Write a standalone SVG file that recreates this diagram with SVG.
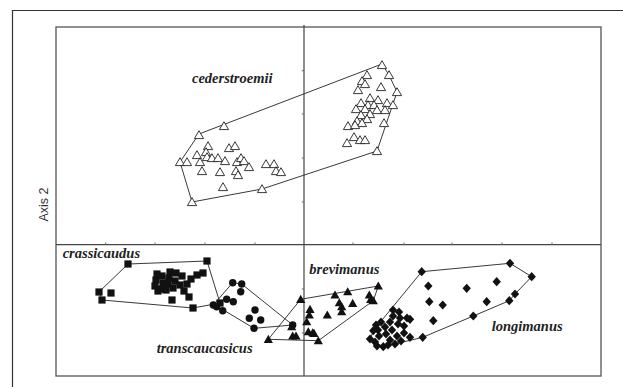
<svg xmlns="http://www.w3.org/2000/svg" xmlns:xlink="http://www.w3.org/1999/xlink" width="623" height="387" viewBox="0 0 623 387">
<style>
  .frame{fill:none;stroke:#333;stroke-width:1.2}
  .box{fill:none;stroke:#555;stroke-width:1.3}
  .axis{fill:none;stroke:#444;stroke-width:1.2}
  .tick{stroke:#666;stroke-width:1}
  .hull{fill:none;stroke:#222;stroke-width:0.9;stroke-linejoin:round}
  .lab{font-family:"Liberation Serif","Times New Roman",serif;font-weight:bold;font-style:italic;font-size:14.5px;fill:#222}
  .ax{font-family:"Liberation Sans",Arial,sans-serif;font-size:12.5px;fill:#333}
</style>
<defs>
  <path id="to" d="M0,-4.3 L4.6,3.6 L-4.6,3.6 Z" fill="#fff" stroke="#222" stroke-width="0.9"/>
  <path id="tf" d="M0,-4.5 L4.6,3.6 L-4.6,3.6 Z" fill="#111"/>
  <rect id="sq" x="-3.6" y="-3.6" width="7.2" height="7.2" fill="#111"/>
  <circle id="ci" r="3.7" fill="#111"/>
  <path id="di" d="M0,-4.6 L4.2,0 L0,4.6 L-4.2,0 Z" fill="#111"/>
</defs>
<rect width="623" height="387" fill="#fff"/>
<g id="frame">
  <polyline class="frame" points="12.5,387 12.5,10.5 623,10.5"/>
  <rect class="box" x="56" y="27" width="545" height="349"/>
</g>
<g id="axes">
  <line class="axis" x1="56" y1="244.7" x2="601" y2="244.7"/>
  <line class="axis" x1="304" y1="25" x2="304" y2="376"/>
  <g class="tick">
    <line x1="105.7" y1="242.5" x2="105.7" y2="244.7"/>
    <line x1="155" y1="242.5" x2="155" y2="244.7"/>
    <line x1="205" y1="242.5" x2="205" y2="244.7"/>
    <line x1="255" y1="242.5" x2="255" y2="244.7"/>
    <line x1="353" y1="242.5" x2="353" y2="244.7"/>
    <line x1="404" y1="242.5" x2="404" y2="244.7"/>
    <line x1="452" y1="242.5" x2="452" y2="244.7"/>
    <line x1="502" y1="242.5" x2="502" y2="244.7"/>
    <line x1="552" y1="242.5" x2="552" y2="244.7"/>
    <line x1="301.8" y1="70.7" x2="304" y2="70.7"/>
    <line x1="301.8" y1="114" x2="304" y2="114"/>
    <line x1="301.8" y1="158" x2="304" y2="158"/>
    <line x1="301.8" y1="202" x2="304" y2="202"/>
    <line x1="301.8" y1="289" x2="304" y2="289"/>
    <line x1="301.8" y1="333" x2="304" y2="333"/>
  </g>
  <text class="ax" transform="translate(48.3,204.5) rotate(-90)" text-anchor="middle">Axis 2</text>
</g>
<g id="cederstroemii">
  <polygon class="hull" points="199,134 382,64 389,75 397,92 377,151 262,189 192,202 180,162"/>
  <use href="#to" x="224" y="126"/><use href="#to" x="199" y="135"/><use href="#to" x="208" y="146"/><use href="#to" x="229" y="148"/>
  <use href="#to" x="235" y="146"/><use href="#to" x="197" y="155"/><use href="#to" x="206" y="152"/><use href="#to" x="207" y="157"/>
  <use href="#to" x="212" y="158"/><use href="#to" x="218" y="158"/><use href="#to" x="200" y="162"/><use href="#to" x="180" y="162"/>
  <use href="#to" x="187" y="162"/><use href="#to" x="225" y="161"/><use href="#to" x="237" y="162"/><use href="#to" x="241" y="158"/>
  <use href="#to" x="244" y="161"/><use href="#to" x="249" y="167"/><use href="#to" x="202" y="171"/><use href="#to" x="220" y="172"/>
  <use href="#to" x="236" y="171"/><use href="#to" x="238" y="175"/><use href="#to" x="266" y="164"/><use href="#to" x="274" y="164"/>
  <use href="#to" x="276" y="171"/><use href="#to" x="281" y="172"/><use href="#to" x="223" y="187"/><use href="#to" x="262" y="189"/>
  <use href="#to" x="192" y="202"/>
  <use href="#to" x="382" y="65"/><use href="#to" x="367" y="75"/><use href="#to" x="389" y="75"/><use href="#to" x="362" y="81"/>
  <use href="#to" x="365" y="84"/><use href="#to" x="358" y="90"/><use href="#to" x="381" y="87"/><use href="#to" x="397" y="92"/>
  <use href="#to" x="370" y="98"/><use href="#to" x="378" y="100"/><use href="#to" x="361" y="103"/><use href="#to" x="368" y="105"/>
  <use href="#to" x="374" y="105"/><use href="#to" x="387" y="103"/><use href="#to" x="393" y="105"/><use href="#to" x="356" y="109"/>
  <use href="#to" x="365" y="109"/><use href="#to" x="377" y="110"/><use href="#to" x="385" y="110"/><use href="#to" x="361" y="115"/>
  <use href="#to" x="370" y="114"/><use href="#to" x="367" y="119"/><use href="#to" x="357" y="121"/><use href="#to" x="362" y="123"/>
  <use href="#to" x="384" y="123"/><use href="#to" x="348" y="126"/><use href="#to" x="355" y="125"/><use href="#to" x="354" y="137"/>
  <use href="#to" x="360" y="140"/><use href="#to" x="365" y="140"/><use href="#to" x="347" y="143"/><use href="#to" x="377" y="151"/>
  <text class="lab" x="192" y="83">cederstroemii</text>
</g>
<g id="crassicaudus">
  <polygon class="hull" points="128,264 207,261 220,303 193,308 102,300 99,292"/>
  <use href="#sq" x="128" y="264"/><use href="#sq" x="207" y="261"/><use href="#sq" x="203" y="273"/><use href="#sq" x="99" y="292"/>
  <use href="#sq" x="102" y="300"/><use href="#sq" x="111" y="293"/><use href="#sq" x="172" y="300"/><use href="#sq" x="189" y="297"/>
  <use href="#sq" x="193" y="308"/><use href="#sq" x="220" y="303"/>
  <use href="#sq" x="157" y="274"/><use href="#sq" x="156" y="280"/><use href="#sq" x="155" y="286"/><use href="#sq" x="158" y="291"/>
  <use href="#sq" x="163" y="283"/><use href="#sq" x="161" y="289"/><use href="#sq" x="162" y="276"/><use href="#sq" x="170" y="272"/>
  <use href="#sq" x="169" y="278"/><use href="#sq" x="168" y="284"/><use href="#sq" x="173" y="288"/><use href="#sq" x="176" y="273"/>
  <use href="#sq" x="175" y="281"/><use href="#sq" x="180" y="285"/><use href="#sq" x="184" y="291"/><use href="#sq" x="187" y="284"/>
  <use href="#sq" x="191" y="279"/><use href="#sq" x="197" y="275"/><use href="#sq" x="182" y="276"/><use href="#sq" x="166" y="290"/>
  <text class="lab" x="62.7" y="258">crassicaudus</text>
</g>
<g id="transcaucasicus">
  <polygon class="hull" points="232.7,282.7 241.7,284 292.7,325 254,328.3 220,308 213.3,305"/>
  <use href="#ci" x="232.7" y="282.7"/><use href="#ci" x="241.7" y="284"/><use href="#ci" x="240.7" y="291.7"/><use href="#ci" x="226.7" y="299.3"/>
  <use href="#ci" x="233.3" y="301.7"/><use href="#ci" x="213.3" y="305"/><use href="#ci" x="216.7" y="306.7"/><use href="#ci" x="222.7" y="310.7"/>
  <use href="#ci" x="255" y="310"/><use href="#ci" x="249.3" y="318.3"/><use href="#ci" x="260.7" y="320"/><use href="#ci" x="254" y="328.3"/>
  <use href="#ci" x="292.7" y="325"/>
  <text class="lab" x="156.7" y="353">transcaucasicus</text>
</g>
<g id="brevimanus">
  <polygon class="hull" points="300.7,299.3 378.3,286 373.3,300.7 318.3,340.7 268.3,339.3"/>
  <use href="#tf" x="300.7" y="299.3"/><use href="#tf" x="335" y="295"/><use href="#tf" x="347.7" y="291.7"/><use href="#tf" x="378.3" y="286"/>
  <use href="#tf" x="369.3" y="295"/><use href="#tf" x="370.7" y="299.3"/><use href="#tf" x="373.3" y="300.7"/><use href="#tf" x="339.3" y="302.7"/>
  <use href="#tf" x="352.7" y="303.3"/><use href="#tf" x="341.7" y="306.7"/><use href="#tf" x="341.7" y="311.7"/><use href="#tf" x="310" y="309.3"/>
  <use href="#tf" x="309.3" y="315"/><use href="#tf" x="327.3" y="315"/><use href="#tf" x="308.3" y="331.7"/><use href="#tf" x="312.7" y="332.7"/>
  <use href="#tf" x="291.7" y="326.7"/><use href="#tf" x="292.7" y="336"/><use href="#tf" x="296" y="336"/><use href="#tf" x="318.3" y="340.7"/>
  <use href="#tf" x="306.7" y="321.7"/><use href="#tf" x="268.3" y="339.3"/><use href="#tf" x="314" y="333.3"/>
  <text class="lab" x="309.3" y="274">brevimanus</text>
</g>
<g id="longimanus">
  <polygon class="hull" points="373.3,330.7 421.7,271.7 510,263.3 531.7,276.7 515,294 509.3,300.7 473.3,316 422.7,337.3 383.3,346.7 370,340"/>
  <use href="#di" x="421.7" y="271.7"/><use href="#di" x="510" y="263.3"/><use href="#di" x="531.7" y="276.7"/><use href="#di" x="515" y="294"/>
  <use href="#di" x="509.3" y="300.7"/><use href="#di" x="496.7" y="281.7"/><use href="#di" x="466.7" y="288.3"/><use href="#di" x="428.3" y="286"/>
  <use href="#di" x="429.3" y="301.7"/><use href="#di" x="442.7" y="305"/><use href="#di" x="486.7" y="301.7"/><use href="#di" x="473.3" y="316"/>
  <use href="#di" x="433.3" y="320.7"/><use href="#di" x="422.7" y="337.3"/><use href="#di" x="410" y="319.3"/><use href="#di" x="410" y="337.3"/>
  <use href="#di" x="393" y="310"/><use href="#di" x="399" y="312"/><use href="#di" x="393" y="316"/><use href="#di" x="400" y="318"/>
  <use href="#di" x="390" y="322"/><use href="#di" x="398" y="324"/><use href="#di" x="404" y="326"/><use href="#di" x="385" y="327"/>
  <use href="#di" x="378" y="330"/><use href="#di" x="373.3" y="330.7"/><use href="#di" x="392" y="330"/><use href="#di" x="386" y="334"/>
  <use href="#di" x="379" y="336"/><use href="#di" x="370" y="339"/><use href="#di" x="375" y="342"/><use href="#di" x="383.3" y="346.7"/>
  <use href="#di" x="390" y="340"/><use href="#di" x="397" y="336"/><use href="#di" x="404" y="333"/><use href="#di" x="395" y="344"/>
  <use href="#di" x="388" y="345"/><use href="#di" x="407" y="318"/><use href="#di" x="381" y="322"/><use href="#di" x="376" y="325"/>
  <use href="#di" x="401" y="341"/><use href="#di" x="377" y="346"/>
  <text class="lab" x="491.7" y="331">longimanus</text>
</g>
</svg>
